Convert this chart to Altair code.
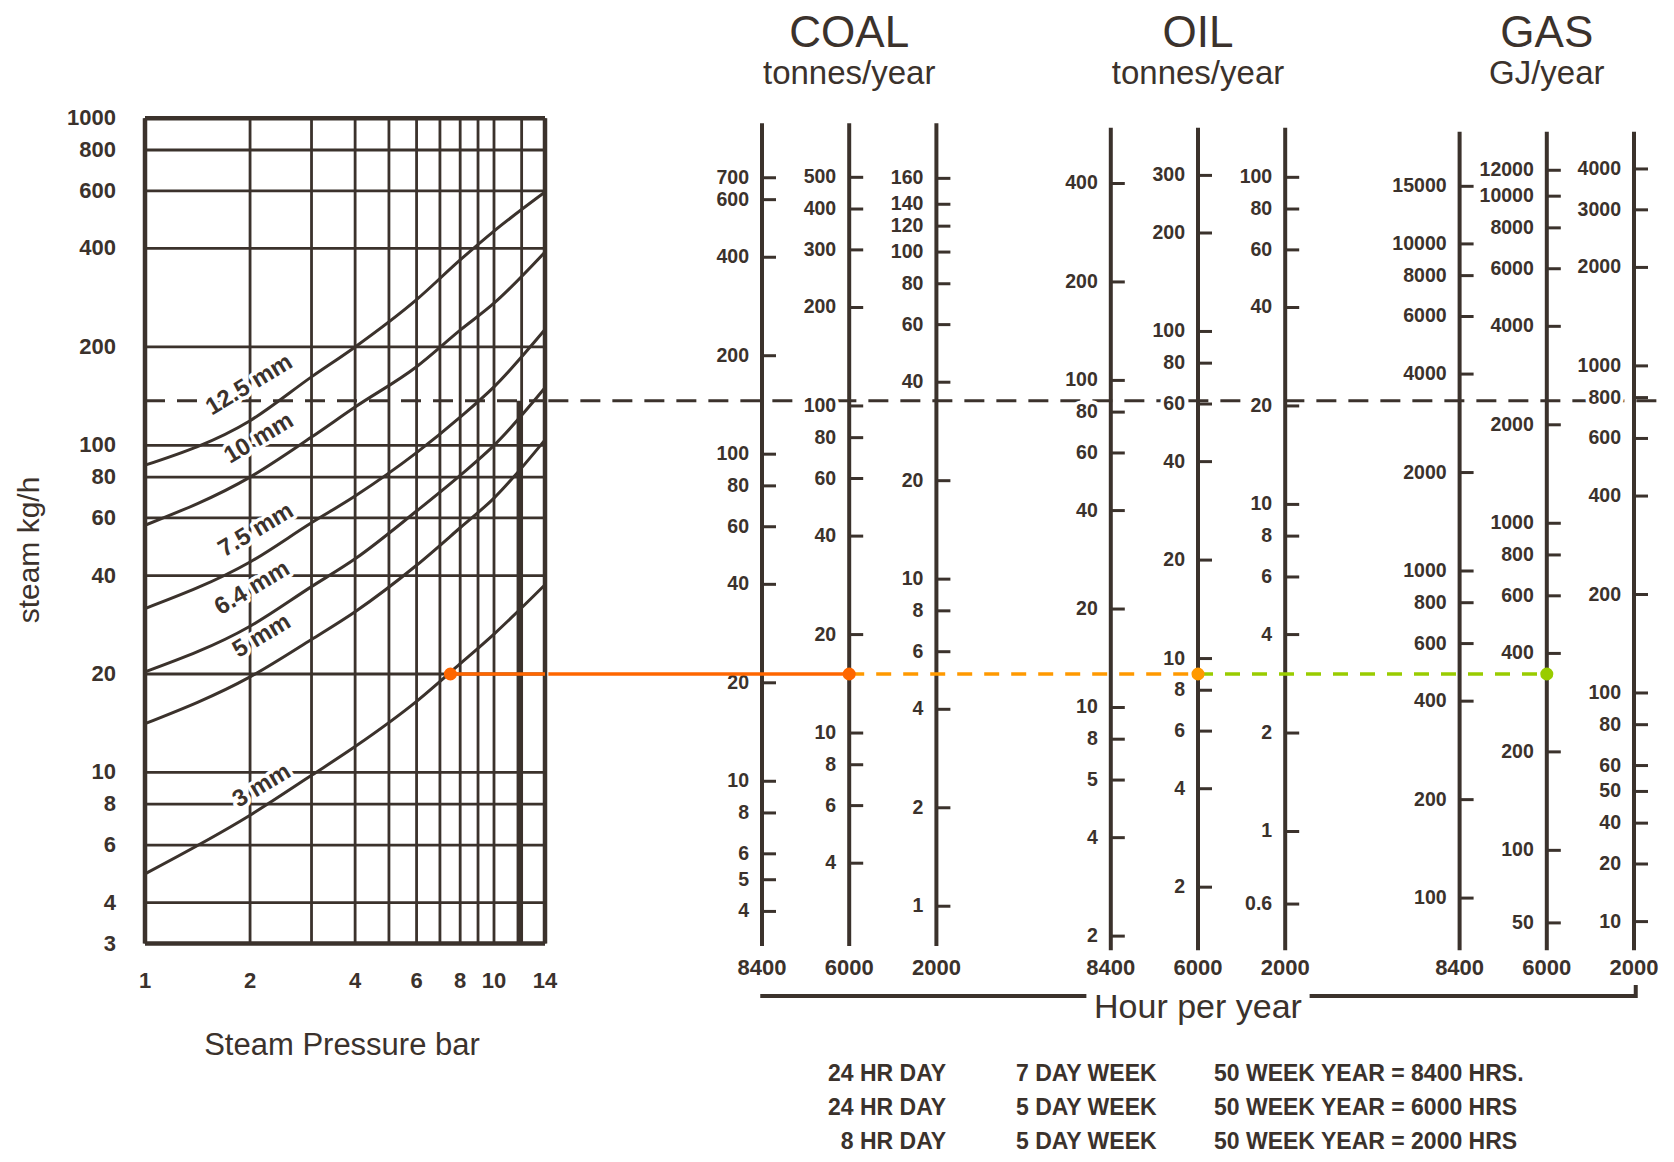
import altair as alt
import pandas as pd

INK = "#3b322c"
FONT = "Liberation Sans"
ORANGE = "#ff6600"
LIGHT_ORANGE = "#ff9900"
GREEN = "#99cc00"

# ---------------- left chart: steam loss through orifices ----------------
PRESSURE_GRID = [1, 2, 3, 4, 5, 6, 7, 8, 9, 10, 12, 14]
STEAM_GRID = [4, 6, 8, 10, 20, 40, 60, 80, 100, 200, 400, 600, 800]
FRAME_PRESSURE = [1, 14]
FRAME_STEAM = [3, 1000]
PRESSURE_TICKS = [1, 2, 4, 6, 8, 10, 14]
STEAM_TICKS = [3, 4, 6, 8, 10, 20, 40, 60, 80, 100, 200, 400, 600, 800, 1000]

CURVE_PRESSURE = [1, 2, 3, 4, 6, 8, 10, 14]
ORIFICES = ["12.5 mm", "10 mm", "7.5 mm", "6.4 mm", "5 mm", "3 mm"]
STEAM_12_5 = [87, 119, 162, 200, 279, 369, 452, 595]
STEAM_10 = [57, 80, 106, 131, 174, 225, 272, 390]
STEAM_7_5 = [31.7, 44, 58, 70, 95, 122, 151, 226]
STEAM_6_4 = [20.3, 28, 37, 45, 63, 81, 100, 150]
STEAM_5 = [14.1, 19.6, 25.5, 31, 43, 56, 69, 104]
STEAM_3 = [4.9, 7.4, 9.8, 12, 16.5, 21.5, 26.5, 37.5]
ORIFICE_LABEL_PRESSURE = [1.99, 2.12, 2.08, 2.03, 2.16, 2.16]
ORIFICE_LABEL_STEAM = [153, 105, 55, 36.6, 26.1, 9.1]

EXAMPLE_STEAM = 137        # dashed example reading, kg/h
EXAMPLE_PRESSURE = 11.8    # its vertical pressure line, bar
READ_PRESSURE = 7.5        # highlighted reading
READ_STEAM = 20

# ---------------- right: fuel nomogram scales ----------------
FUELS = ["COAL", "OIL", "GAS"]
FUEL_UNITS = ["tonnes/year", "tonnes/year", "GJ/year"]
HOURS = [8400, 6000, 2000]
SCALE_SLOTS = [0, 1, 2, 4, 5, 6, 8, 9, 10]
STEAM_PER_UNIT = {          # kg/h of steam matched by one unit of fuel per year
    "COAL": [0.94, 1.32, 3.9],
    "OIL": [1.58, 2.23, 6.6],
    "GAS": [0.0413, 0.0578, 0.175],
}
AXIS_TOP = {"COAL": 965, "OIL": 935, "GAS": 910}
AXIS_BOTTOM = {"COAL": 2.95, "OIL": 2.86, "GAS": 2.86}

COAL_8400 = [700, 600, 400, 200, 100, 80, 60, 40, 20, 10, 8, 6, 5, 4]
COAL_6000 = [500, 400, 300, 200, 100, 80, 60, 40, 20, 10, 8, 6, 4]
COAL_2000 = [168, 140, 120, 100, 80, 60, 40, 20, 10, 8, 6, 4, 2, 1]
OIL_8400 = [400, 200, 100, 80, 60, 40, 20, 10, 8, 6, 4, 2]
OIL_6000 = [300, 200, 100, 80, 60, 40, 20, 10, 8, 6, 4, 2]
OIL_2000 = [100, 80, 60, 40, 20, 10, 8, 6, 4, 2, 1, 0.6]
GAS_8400 = [15000, 10000, 8000, 6000, 4000, 2000, 1000, 800, 600, 400, 200, 100]
GAS_6000 = [12000, 10000, 8000, 6000, 4000, 2000, 1000, 800, 600, 400, 200, 100, 60]
GAS_2000 = [4000, 3000, 2000, 1000, 800, 600, 400, 200, 100, 80, 60, 50, 40, 30, 20]
# labels printed on the original that differ from the mark's scale position
PRINTED = {("COAL", 2000, 168): "160", ("OIL", 8400, 6): "5", ("GAS", 6000, 60): "50",
           ("GAS", 2000, 30): "20", ("GAS", 2000, 20): "10"}
SCALE_TICKS = {
    "COAL": [COAL_8400, COAL_6000, COAL_2000],
    "OIL": [OIL_8400, OIL_6000, OIL_2000],
    "GAS": [GAS_8400, GAS_6000, GAS_2000],
}

NOTE_DAY = ["24 HR DAY", "24 HR DAY", "8 HR DAY"]
NOTE_WEEK = ["7 DAY WEEK", "5 DAY WEEK", "5 DAY WEEK"]
NOTE_YEAR = ["50 WEEK YEAR = 8400 HRS.", "50 WEEK YEAR = 6000 HRS", "50 WEEK YEAR = 2000 HRS"]

# layout of slots (not data)
GRID_EDGE_SLOT = -2.45
LINE_END_SLOT = 10.33
BRACKET = [(-0.02, 3.72), (6.28, 10.02)]

# ---------------- tables ----------------
def fmt(v):
    return str(int(v)) if float(v).is_integer() else str(v)

curves = pd.DataFrame(
    [{"orifice": name, "p": p, "s": s}
     for name, vals in zip(ORIFICES, [STEAM_12_5, STEAM_10, STEAM_7_5, STEAM_6_4, STEAM_5, STEAM_3])
     for p, s in zip(CURVE_PRESSURE, vals)]
)
curve_labels = pd.DataFrame({"t": ORIFICES, "p": ORIFICE_LABEL_PRESSURE, "s": ORIFICE_LABEL_STEAM})
vgrid = pd.DataFrame({"p": PRESSURE_GRID, "s0": FRAME_STEAM[0], "s1": FRAME_STEAM[1]})
hgrid = pd.DataFrame({"s": STEAM_GRID, "p0": FRAME_PRESSURE[0], "p1": FRAME_PRESSURE[1]})
vframe = pd.DataFrame({"p": FRAME_PRESSURE, "s0": FRAME_STEAM[0], "s1": FRAME_STEAM[1]})
hframe = pd.DataFrame({"s": FRAME_STEAM, "p0": FRAME_PRESSURE[0], "p1": FRAME_PRESSURE[1]})
ylabels = pd.DataFrame({"p": FRAME_PRESSURE[0], "s": STEAM_TICKS, "t": [fmt(v) for v in STEAM_TICKS]})
xlabels = pd.DataFrame({"p": PRESSURE_TICKS, "s": FRAME_STEAM[0], "t": [fmt(v) for v in PRESSURE_TICKS]})

axes_rows, tick_rows, hour_rows = [], [], []
for fi, fuel in enumerate(FUELS):
    for hi, h in enumerate(HOURS):
        slot = SCALE_SLOTS[fi * 3 + hi]
        k = STEAM_PER_UNIT[fuel][hi]
        axes_rows.append({"slot": slot, "top": AXIS_TOP[fuel], "bottom": AXIS_BOTTOM[fuel]})
        hour_rows.append({"slot": slot, "t": str(h)})
        for v in SCALE_TICKS[fuel][hi]:
            tick_rows.append({"slot": slot, "s": v * k, "t": PRINTED.get((fuel, h, v), fmt(v))})
axes_df = pd.DataFrame(axes_rows)
ticks_df = pd.DataFrame(tick_rows)
hours_df = pd.DataFrame(hour_rows)
titles_df = pd.DataFrame({"slot": [SCALE_SLOTS[1], SCALE_SLOTS[4], SCALE_SLOTS[7]], "fuel": FUELS, "unit": FUEL_UNITS})

# ---------------- scales ----------------
xl_scale = alt.Scale(type="log", domain=[1, 14], range=[137, 537], nice=False)
xr_scale = alt.Scale(type="linear", domain=[0, 10], range=[754, 1626], nice=False, zero=False)
y_scale = alt.Scale(type="log", domain=[3, 1000], range=[935.5, 110.3], nice=False)


def xl(f):
    return alt.X(f"{f}:Q", scale=xl_scale, axis=None)


def xr(f):
    return alt.X(f"{f}:Q", scale=xr_scale, axis=None)


def ys(f):
    return alt.Y(f"{f}:Q", scale=y_scale, axis=None)


layers = []
# grid
layers.append(alt.Chart(vgrid).mark_rule(color=INK, strokeWidth=2.8).encode(x=xl("p"), y=ys("s0"), y2="s1:Q"))
layers.append(alt.Chart(hgrid).mark_rule(color=INK, strokeWidth=2.8).encode(x=xl("p0"), x2="p1:Q", y=ys("s")))
layers.append(alt.Chart(vframe).mark_rule(color=INK, strokeWidth=4.5).encode(x=xl("p"), y=ys("s0"), y2="s1:Q"))
layers.append(alt.Chart(hframe).mark_rule(color=INK, strokeWidth=4.5).encode(x=xl("p0"), x2="p1:Q", y=ys("s")))
# curves
layers.append(alt.Chart(curves).mark_line(color=INK, strokeWidth=3, interpolate="monotone").encode(
    x=xl("p"), y=ys("s"), detail="orifice:N"))
# example dashed reading
ex_left = pd.DataFrame({"p0": [FRAME_PRESSURE[0]], "p1": [FRAME_PRESSURE[1]], "s": [EXAMPLE_STEAM]})
ex_right = pd.DataFrame({"c0": [GRID_EDGE_SLOT], "c1": [LINE_END_SLOT], "s": [EXAMPLE_STEAM]})
ex_vert = pd.DataFrame({"p": [EXAMPLE_PRESSURE], "s0": [FRAME_STEAM[0]], "s1": [EXAMPLE_STEAM]})
layers.append(alt.Chart(ex_left).mark_rule(color=INK, strokeWidth=3, strokeDash=[20, 12]).encode(
    x=xl("p0"), x2="p1:Q", y=ys("s")))
layers.append(alt.Chart(ex_right).mark_rule(color=INK, strokeWidth=3, strokeDash=[20, 12]).encode(
    x=xr("c0"), x2="c1:Q", y=ys("s")))
layers.append(alt.Chart(ex_vert).mark_rule(color=INK, strokeWidth=5).encode(x=xl("p"), y=ys("s0"), y2="s1:Q"))

# nomogram axes and ticks
layers.append(alt.Chart(axes_df).mark_rule(color=INK, strokeWidth=4).encode(x=xr("slot"), y=ys("top"), y2="bottom:Q"))
layers.append(alt.Chart(ticks_df).mark_rule(color=INK, strokeWidth=3, x2Offset=14).encode(
    x=xr("slot"), x2="slot:Q", y=ys("s")))

# halos then labels
halo = dict(fill="white", stroke="white", strokeWidth=7, strokeJoin="round", font=FONT, fontWeight="bold")
layers.append(alt.Chart(curve_labels).mark_text(angle=329, fontSize=24, **halo).encode(
    x=xl("p"), y=ys("s"), text="t:N"))
layers.append(alt.Chart(ticks_df).mark_text(align="right", baseline="middle", dx=-13, fontSize=19.5, **halo).encode(
    x=xr("slot"), y=ys("s"), text="t:N"))
layers.append(alt.Chart(curve_labels).mark_text(angle=329, fontSize=24, color=INK, font=FONT, fontWeight="bold").encode(
    x=xl("p"), y=ys("s"), text="t:N"))
layers.append(alt.Chart(ticks_df).mark_text(align="right", baseline="middle", dx=-13, fontSize=19.5, color=INK,
                                            font=FONT, fontWeight="bold").encode(
    x=xr("slot"), y=ys("s"), text="t:N"))
layers.append(alt.Chart(ylabels).mark_text(align="right", baseline="middle", dx=-29, fontSize=22, color=INK,
                                           font=FONT, fontWeight="bold").encode(x=xl("p"), y=ys("s"), text="t:N"))
layers.append(alt.Chart(xlabels).mark_text(align="center", baseline="middle", dy=37, fontSize=22, color=INK,
                                           font=FONT, fontWeight="bold").encode(x=xl("p"), y=ys("s"), text="t:N"))

# highlighted reading
read_left = pd.DataFrame({"p0": [READ_PRESSURE], "p1": [FRAME_PRESSURE[1]], "s": [READ_STEAM]})
read_right = pd.DataFrame({"c0": [GRID_EDGE_SLOT], "c1": [SCALE_SLOTS[1]], "s": [READ_STEAM]})
read_oil = pd.DataFrame({"c0": [SCALE_SLOTS[1]], "c1": [SCALE_SLOTS[4]], "s": [READ_STEAM]})
read_gas = pd.DataFrame({"c0": [SCALE_SLOTS[4]], "c1": [SCALE_SLOTS[7]], "s": [READ_STEAM]})
layers.append(alt.Chart(read_left).mark_rule(color=ORANGE, strokeWidth=3.5).encode(x=xl("p0"), x2="p1:Q", y=ys("s")))
layers.append(alt.Chart(read_right).mark_rule(color=ORANGE, strokeWidth=3.5).encode(x=xr("c0"), x2="c1:Q", y=ys("s")))
layers.append(alt.Chart(read_oil).mark_rule(color=LIGHT_ORANGE, strokeWidth=3.5, strokeDash=[15, 12]).encode(
    x=xr("c0"), x2="c1:Q", y=ys("s")))
layers.append(alt.Chart(read_gas).mark_rule(color=GREEN, strokeWidth=3.5, strokeDash=[15, 12]).encode(
    x=xr("c0"), x2="c1:Q", y=ys("s")))
dot_left = pd.DataFrame({"p": [READ_PRESSURE], "s": [READ_STEAM]})
dots_right = pd.DataFrame({"slot": [SCALE_SLOTS[1], SCALE_SLOTS[4], SCALE_SLOTS[7]], "s": [READ_STEAM] * 3,
                           "c": [ORANGE, LIGHT_ORANGE, GREEN]})
layers.append(alt.Chart(dot_left).mark_circle(size=170, opacity=1, color=ORANGE).encode(x=xl("p"), y=ys("s")))
layers.append(alt.Chart(dots_right).mark_circle(size=170, opacity=1).encode(
    x=xr("slot"), y=ys("s"), color=alt.Color("c:N", scale=None)))

# titles and hour labels
layers.append(alt.Chart(titles_df).mark_text(baseline="alphabetic", fontSize=44, color=INK, font=FONT).encode(
    x=xr("slot"), y=alt.value(39), text="fuel:N"))
layers.append(alt.Chart(titles_df).mark_text(baseline="alphabetic", fontSize=33, color=INK, font=FONT).encode(
    x=xr("slot"), y=alt.value(76), text="unit:N"))
layers.append(alt.Chart(hours_df).mark_text(baseline="middle", fontSize=22, color=INK, font=FONT,
                                            fontWeight="bold").encode(x=xr("slot"), y=alt.value(960), text="t:N"))
bracket_df = pd.DataFrame({"c0": [b[0] for b in BRACKET], "c1": [b[1] for b in BRACKET]})
layers.append(alt.Chart(bracket_df).mark_rule(color=INK, strokeWidth=4).encode(
    x=xr("c0"), x2="c1:Q", y=alt.value(988)))
layers.append(alt.Chart(pd.DataFrame({"c": [BRACKET[1][1]]})).mark_rule(color=INK, strokeWidth=4).encode(
    x=xr("c"), y=alt.value(977), y2=alt.value(990)))
layers.append(alt.Chart(pd.DataFrame({"slot": [SCALE_SLOTS[4]], "t": ["Hour per year"]})).mark_text(
    baseline="middle", fontSize=34, color=INK, font=FONT).encode(x=xr("slot"), y=alt.value(1000), text="t:N"))

# axis titles of left chart
layers.append(alt.Chart(pd.DataFrame({"t": ["steam kg/h"]})).mark_text(
    angle=270, baseline="middle", fontSize=30, color=INK, font=FONT).encode(
    x=alt.value(22), y=alt.value(542), text="t:N"))
layers.append(alt.Chart(pd.DataFrame({"t": ["Steam Pressure bar"]})).mark_text(
    baseline="middle", fontSize=31, color=INK, font=FONT).encode(
    x=alt.value(334), y=alt.value(1038), text="t:N"))

# notes
notes = pd.DataFrame({"row": [0, 1, 2], "day": NOTE_DAY, "week": NOTE_WEEK, "year": NOTE_YEAR})
note_y = alt.Y("row:Q", scale=alt.Scale(domain=[0, 2], range=[1066, 1134], nice=False, zero=False), axis=None)
for field, xpos, al in [("day", 938, "right"), ("week", 1008, "left"), ("year", 1206, "left")]:
    layers.append(alt.Chart(notes).mark_text(align=al, baseline="middle", fontSize=23, color=INK, font=FONT,
                                             fontWeight="bold").encode(
        x=alt.value(xpos), y=note_y, text=f"{field}:N"))

chart = alt.layer(*layers).resolve_scale(x="independent", y="independent").properties(
    width=1656, height=1144, padding=0, background="white"
).configure_view(stroke=None, strokeWidth=0, fill="white")

chart.save("out.html", embed_options={"renderer": "svg", "actions": False})
